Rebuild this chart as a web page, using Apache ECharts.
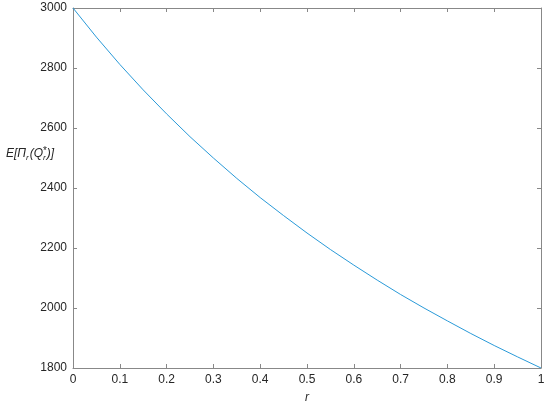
<!DOCTYPE html>
<html>
<head>
<meta charset="utf-8">
<script src="https://cdn.jsdelivr.net/npm/echarts@6/dist/echarts.min.js"></script>
<style>
  html, body { margin: 0; padding: 0; background: #fff; }
  #chart { width: 550px; height: 409px; }
</style>
</head>
<body>
<div id="chart"></div>
<script>
// r values and expected profit
var rValues = [0, 0.05, 0.1, 0.15, 0.2, 0.25, 0.3, 0.35, 0.4, 0.45, 0.5,
               0.55, 0.6, 0.65, 0.7, 0.75, 0.8, 0.85, 0.9, 0.95, 1];
var profit = [3000, 2903, 2812, 2727, 2647, 2571, 2500, 2432, 2368, 2308, 2250,
              2195, 2143, 2093, 2045, 2000, 1957, 1915, 1875, 1837, 1800];
var xTicks = [0, 0.1, 0.2, 0.3, 0.4, 0.5, 0.6, 0.7, 0.8, 0.9, 1];
var yTicks = [1800, 2000, 2200, 2400, 2600, 2800, 3000];

var axisGray = '#888888';
var textColor = '#262626';
var font = 'Liberation Sans, Arial, sans-serif';

var chart = echarts.init(document.getElementById('chart'));

var pts = [];
for (var i = 0; i < rValues.length; i++) {
  pts.push([rValues[i], profit[i]]);
}

function baseX(pos, showLabels) {
  return {
    type: 'value',
    position: pos,
    min: xTicks[0],
    max: xTicks[xTicks.length - 1],
    interval: 0.1,
    axisLine: { show: true, onZero: false, lineStyle: { color: axisGray, width: 1 } },
    axisTick: { show: true, inside: true, length: 4, lineStyle: { color: axisGray } },
    axisLabel: {
      show: showLabels, color: textColor, fontSize: 12, fontFamily: font, margin: 6,
      formatter: function (v) { return String(Math.round(v * 10) / 10); }
    },
    splitLine: { show: false }
  };
}

function baseY(pos, showLabels) {
  return {
    type: 'value',
    position: pos,
    min: yTicks[0],
    max: yTicks[yTicks.length - 1],
    interval: 200,
    axisLine: { show: true, onZero: false, lineStyle: { color: axisGray, width: 1 } },
    axisTick: { show: true, inside: true, length: 4, lineStyle: { color: axisGray } },
    axisLabel: {
      show: showLabels, color: textColor, fontSize: 12, fontFamily: font, margin: 6,
      formatter: function (v) { return String(v); }
    },
    splitLine: { show: false }
  };
}

var xBottom = baseX('bottom', true);
xBottom.name = 'r';
xBottom.nameLocation = 'middle';
xBottom.nameGap = 24;
xBottom.nameTextStyle = { color: textColor, fontSize: 12, fontStyle: 'italic', fontFamily: font };

var option = {
  animation: false,
  backgroundColor: '#ffffff',
  grid: { left: 73, right: 9, top: 8, bottom: 37 },
  xAxis: [xBottom, baseX('top', false)],
  yAxis: [baseY('left', true), baseY('right', false)],
  graphic: [
    {
      type: 'text',
      left: 6,
      top: 148,
      z: 100,
      style: {
        text: '{m|E[Π}{s|r}{m|(Q}{s|r}{m|)]}',
        rich: {
          m: { fontSize: 12, fontStyle: 'italic', fontFamily: font, fill: textColor },
          s: { fontSize: 8, fontStyle: 'italic', fontFamily: font, fill: textColor, padding: [8, 1, 0, 0] }
        }
      }
    },
    {
      type: 'text',
      left: 43,
      top: 146,
      z: 100,
      style: { text: '*', fontSize: 10, fontFamily: font, fill: textColor }
    }
  ],
  series: [{
    type: 'line',
    data: pts,
    showSymbol: false,
    smooth: false,
    lineStyle: { color: '#2a9ad8', width: 1 }
  }]
};

chart.setOption(option);
</script>
</body>
</html>
